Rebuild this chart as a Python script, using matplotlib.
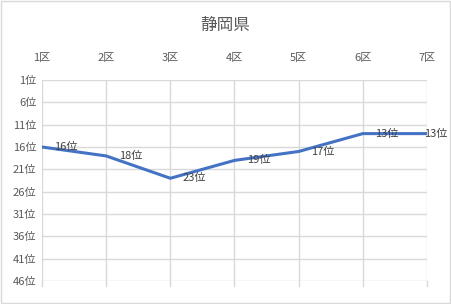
import matplotlib.pyplot as plt
from matplotlib.patches import Rectangle

plt.rcParams['font.family'] = ['Noto Sans CJK JP', 'DejaVu Sans']

districts = ['1区', '2区', '3区', '4区', '5区', '6区', '7区']
ranks = [16, 18, 23, 19, 17, 13, 13]
y_ticks = [1, 6, 11, 16, 21, 26, 31, 36, 41, 46]

text_color = '#595959'
grid_color = '#D9D9D9'

fig = plt.figure(figsize=(4.51, 3.04), dpi=100)
ax = fig.add_axes([0.0931, 0.0757, 0.8537, 0.6611])

x = list(range(len(districts)))
ax.plot(x, ranks, color='#4472C4', linewidth=2.2, solid_capstyle='round')

for xi, r in zip(x, ranks):
    # the last label is pushed back so it stays inside the chart area
    dx = 9 if xi < len(x) - 1 else -2
    ax.annotate(f'{r}位', (xi, r), xytext=(dx, 0), textcoords='offset points',
                ha='left', va='center', fontsize=8, color='#404040')

ax.set_xlim(0, len(districts) - 1)
ax.set_ylim(46, 1)
ax.set_yticks(y_ticks)
ax.set_yticklabels([f'{v}位' for v in y_ticks], fontsize=8, color=text_color)
ax.set_xticks(x)
ax.set_xticklabels(districts, fontsize=8, color=text_color)
ax.xaxis.tick_top()
ax.tick_params(axis='x', which='both', length=0, pad=12, top=True, bottom=False)
ax.tick_params(axis='y', length=0, pad=4)

# vertical grid lines extend slightly below the last row, as in the original
ax.grid(True, color=grid_color, linewidth=1)
for xi in x:
    ax.plot([xi, xi], [46, 47.1], color=grid_color, linewidth=1, clip_on=False, zorder=0)
for s in ax.spines.values():
    s.set_visible(False)

fig.text(0.5, 0.915, '静岡県', ha='center', va='center', fontsize=12, color=text_color)

fig.patches.append(Rectangle((0.002, 0.003), 0.995, 0.993, transform=fig.transFigure,
                             fill=False, edgecolor=grid_color, linewidth=1))

fig.savefig('out.png', dpi=100)
